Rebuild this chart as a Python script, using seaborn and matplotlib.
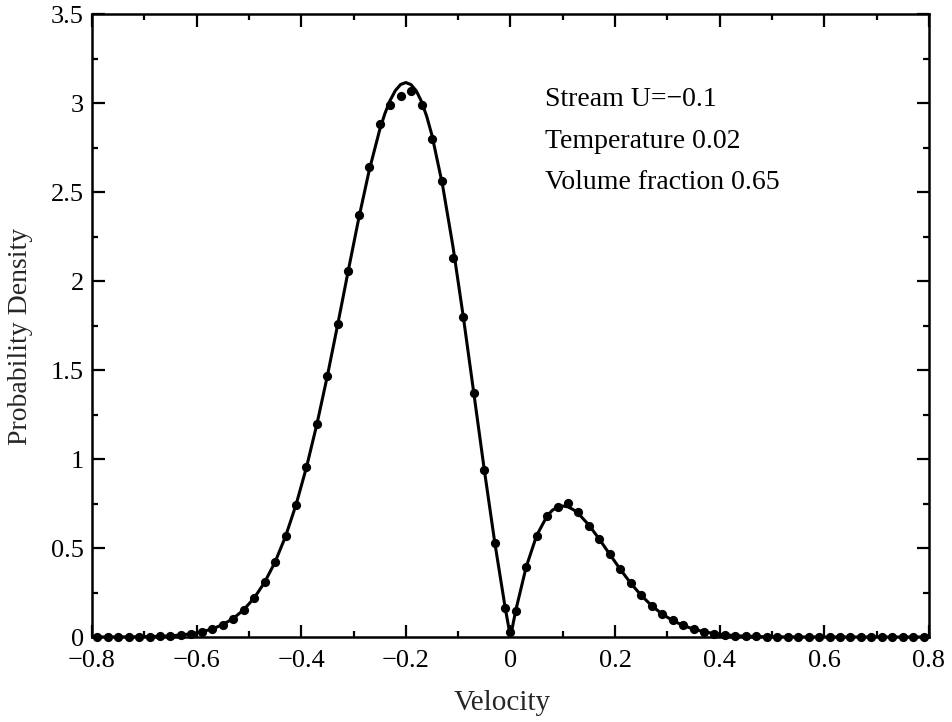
import matplotlib
matplotlib.use("Agg")
import matplotlib.pyplot as plt
import seaborn as sns
import pandas as pd
from matplotlib.ticker import MultipleLocator

# ---- data ----
velocity = [-0.79, -0.77, -0.75, -0.73, -0.71, -0.69, -0.67, -0.65, -0.63, -0.61,
            -0.59, -0.57, -0.55, -0.53, -0.51, -0.49, -0.47, -0.45, -0.43, -0.41,
            -0.39, -0.37, -0.35, -0.33, -0.31, -0.29, -0.27, -0.25, -0.23, -0.21,
            -0.19, -0.17, -0.15, -0.13, -0.11, -0.09, -0.07, -0.05, -0.03, -0.01,
            0.0,
            0.01, 0.03, 0.05, 0.07, 0.09, 0.11, 0.13, 0.15, 0.17, 0.19,
            0.21, 0.23, 0.25, 0.27, 0.29, 0.31, 0.33, 0.35, 0.37, 0.39,
            0.41, 0.43, 0.45, 0.47, 0.49, 0.51, 0.53, 0.55, 0.57, 0.59,
            0.61, 0.63, 0.65, 0.67, 0.69, 0.71, 0.73, 0.75, 0.77, 0.79]

sim_density = [0.000, 0.000, 0.000, 0.001, 0.001, 0.002, 0.004, 0.007, 0.011, 0.018,
               0.029, 0.046, 0.070, 0.104, 0.153, 0.219, 0.307, 0.421, 0.565, 0.742,
               0.953, 1.196, 1.467, 1.759, 2.059, 2.370, 2.640, 2.880, 2.990, 3.040,
               3.070, 2.990, 2.800, 2.560, 2.130, 1.796, 1.369, 0.939, 0.531, 0.163,
               0.030,
               0.148, 0.393, 0.570, 0.680, 0.730, 0.755, 0.705, 0.625, 0.549, 0.464,
               0.380, 0.302, 0.234, 0.176, 0.129, 0.093, 0.065, 0.044, 0.030, 0.019,
               0.012, 0.008, 0.005, 0.003, 0.002, 0.001, 0.0005, 0.0, 0.0, 0.0,
               0.0, 0.0, 0.0, 0.0, 0.0, 0.0, 0.0, 0.0, 0.0, 0.0]

curve_velocity = [-0.80, -0.75, -0.71, -0.67, -0.65, -0.63, -0.61, -0.59, -0.57, -0.55,
                  -0.53, -0.51, -0.49, -0.47, -0.45, -0.43, -0.41, -0.39, -0.37, -0.35,
                  -0.33, -0.31, -0.29, -0.27, -0.25, -0.24, -0.23, -0.22, -0.21, -0.20,
                  -0.19, -0.18, -0.17, -0.16, -0.15, -0.13, -0.11, -0.09, -0.07, -0.05,
                  -0.03, -0.01, 0.0, 0.01, 0.03, 0.05, 0.07, 0.08, 0.09, 0.10,
                  0.11, 0.12, 0.13, 0.15, 0.17, 0.19, 0.21, 0.23, 0.25, 0.27,
                  0.29, 0.31, 0.33, 0.35, 0.37, 0.39, 0.41, 0.43, 0.45, 0.49,
                  0.55, 0.80]

curve_density = [0.0, 0.0004, 0.0013, 0.004, 0.0068, 0.0113, 0.0184, 0.0291, 0.0455, 0.0696,
                 0.104, 0.153, 0.219, 0.307, 0.421, 0.565, 0.742, 0.953, 1.196, 1.467,
                 1.759, 2.059, 2.352, 2.622, 2.849, 2.941, 3.015, 3.070, 3.104, 3.115,
                 3.103, 3.068, 3.008, 2.924, 2.818, 2.542, 2.195, 1.796, 1.369, 0.939,
                 0.531, 0.163, 0.0, 0.148, 0.393, 0.570, 0.680, 0.712, 0.730, 0.736,
                 0.731, 0.716, 0.693, 0.629, 0.549, 0.464, 0.380, 0.302, 0.234, 0.176,
                 0.129, 0.0928, 0.0649, 0.0443, 0.0295, 0.0193, 0.0123, 0.0077, 0.0047, 0.0016,
                 0.0003, 0.0]

annotations = ["Stream U=\u22120.1", "Temperature 0.02", "Volume fraction 0.65"]

pts = pd.DataFrame({"Velocity": velocity, "Density": sim_density})
crv = pd.DataFrame({"Velocity": curve_velocity, "Density": curve_density})

sns.set_theme(style="ticks")
plt.rcParams["font.family"] = ["Liberation Serif", "DejaVu Serif"]
plt.rcParams["axes.linewidth"] = 1.8

fig = plt.figure(figsize=(9.52, 7.22), dpi=100)
ax = fig.add_axes([0.0966, 0.1177, 0.8792, 0.8629])

sns.lineplot(data=crv, x="Velocity", y="Density", ax=ax, color="black",
             linewidth=2.2, sort=False)
sns.scatterplot(data=pts, x="Velocity", y="Density", ax=ax, color="black",
                s=44, edgecolor="black", linewidth=0, clip_on=False, zorder=3)

ax.set_xlim(-0.8, 0.8)
ax.set_ylim(0, 3.5)
ax.xaxis.set_minor_locator(MultipleLocator(0.1))
ax.yaxis.set_minor_locator(MultipleLocator(0.25))
ax.set_xticks([-0.8, -0.6, -0.4, -0.2, 0, 0.2, 0.4, 0.6, 0.8])
ax.set_xticklabels(["\u22120.8", "\u22120.6", "\u22120.4", "\u22120.2", "0",
                    "0.2", "0.4", "0.6", "0.8"])
ax.set_yticks([0, 0.5, 1, 1.5, 2, 2.5, 3, 3.5])
ax.set_yticklabels(["0", "0.5", "1", "1.5", "2", "2.5", "3", "3.5"])

ax.tick_params(which="both", direction="in", top=True, right=True,
               colors="black", labelsize=19)
ax.tick_params(which="major", length=9, width=1.6)
ax.tick_params(which="minor", length=4.5, width=1.6)
ax.tick_params(axis="x", which="major", pad=9)
ax.tick_params(axis="y", which="major", pad=6)

ax.set_xlabel("Velocity", fontsize=21)
ax.set_ylabel("Probability Density", fontsize=20)
ax.xaxis.set_label_coords(0.49, -0.085)
ax.yaxis.set_label_coords(-0.0705, 0.483)

for i, t in enumerate(annotations):
    ax.text(0.541, 0.862 - i * 0.066, t, transform=ax.transAxes,
            fontsize=20, va="center", ha="left", color="black")

for sp in ax.spines.values():
    sp.set_visible(True)
    sp.set_color("black")

fig.savefig("out.png", dpi=100, facecolor="white")
